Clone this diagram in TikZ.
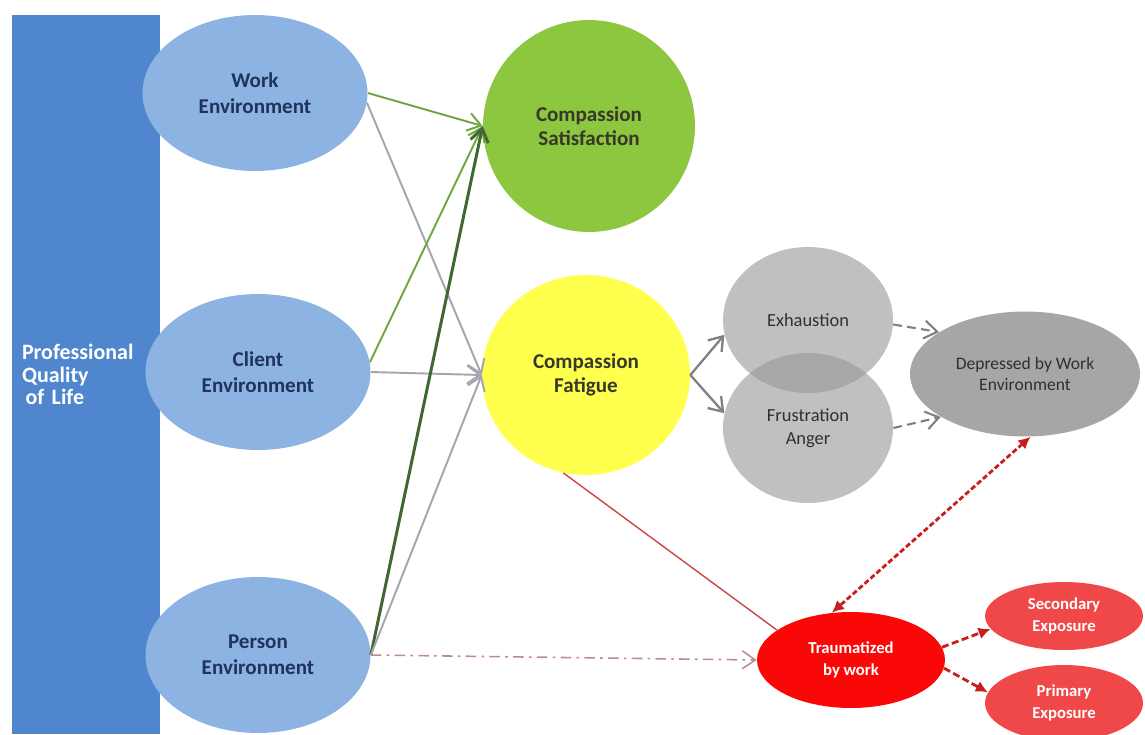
\documentclass[tikz,border=0pt]{standalone}
\usepackage{fontspec}
\setmainfont{Carlito}
\usepackage{tikz}
\usetikzlibrary{shapes.geometric,arrows.meta}

\definecolor{barBlue}{RGB}{79,134,206}
\definecolor{envBlue}{RGB}{141,179,226}
\definecolor{envText}{RGB}{30,52,92}
\definecolor{csGreen}{RGB}{141,198,63}
\definecolor{cfYellow}{RGB}{255,255,77}
\definecolor{cText}{RGB}{56,56,40}
\definecolor{fGray}{RGB}{192,192,192}
\definecolor{fGrayDark}{RGB}{168,168,168}
\definecolor{depGray}{RGB}{166,166,166}
\definecolor{gText}{RGB}{48,48,48}
\definecolor{tRed}{RGB}{250,8,8}
\definecolor{eRed}{RGB}{240,72,72}

\begin{document}
\begin{tikzpicture}[x=0.02cm,y=-0.02cm,
  envnode/.style={ellipse,fill=envBlue,text=envText,inner sep=0pt,
    minimum width=4.5cm,minimum height=3.12cm,align=center,
    font=\fontsize{12}{15}\selectfont\bfseries},
  bignode/.style={ellipse,text=cText,inner sep=0pt,align=center,
    font=\fontsize{12}{14}\selectfont\bfseries},
  graynode/.style={ellipse,fill=fGray,text=gText,inner sep=0pt,
    minimum width=3.4cm,align=center,font=\fontsize{10.5}{13}\selectfont},
  rednode/.style={ellipse,text=white,inner sep=0pt,align=center,
    font=\fontsize{9.5}{12.5}\selectfont\bfseries},
  tip/.style={-{Straight Barb[length=2.6mm,width=3.6mm]}},
  greenline/.style={tip,line width=1.1pt,draw={rgb,255:red,112;green,166;blue,64}},
  grayline/.style={tip,line width=1.1pt,draw={rgb,255:red,165;green,165;blue,175}},
  dashgray/.style={tip,line width=1.2pt,draw={rgb,255:red,128;green,128;blue,128},dash pattern=on 5pt off 3pt},
  reddash/.style={-{Latex[length=2.4mm,width=2.4mm]},line width=1.6pt,draw={rgb,255:red,200;green,30;blue,30},dash pattern=on 4pt off 2pt}]
\useasboundingbox (0,0) rectangle (1145,734);

% left bar
\node[rectangle,fill=barBlue,text=white,inner xsep=0.2cm,inner ysep=0pt,
  minimum height=14.38cm,text width=2.56cm,align=left,
  font=\fontsize{12.5}{13}\selectfont\bfseries] (qol) at (86,374.5)
  {Professional\\Quality\\\,of Life};

% environments
\node[envnode] (work) at (255,93) {Work\\Environment};
\node[envnode] (client) at (258,372) {Client\\Environment};
\node[envnode] (person) at (258,655) {Person\\Environment};

% compassion
\node[bignode,fill=csGreen,minimum width=4.24cm,minimum height=4.24cm] (cs) at (589,126) {Compassion\\Satisfaction};
\node[bignode,fill=cfYellow,minimum width=4.16cm,minimum height=4.0cm] (cf) at (586,375) {Compassion\\Fatigue};

% fatigue parts
\node[graynode,minimum height=2.92cm] (exh) at (808,320) {Exhaustion};
\node[graynode,minimum height=3.0cm] (frus) at (808,428) {Frustration\\Anger};
\begin{scope}
  \clip (exh.center) ellipse [x radius=1.7cm,y radius=1.46cm];
  \fill[fGrayDark] (frus.center) ellipse [x radius=1.7cm,y radius=1.5cm];
\end{scope}
\node[ellipse,fill=depGray,text=gText,inner sep=0pt,minimum width=4.6cm,
  minimum height=2.5cm,align=center,font=\fontsize{10}{11.5}\selectfont] (dep) at (1025,374)
  {Depressed by Work\\Environment};

% trauma
\node[rednode,fill=tRed,minimum width=3.76cm,minimum height=1.92cm] (trauma) at (851,660) {Traumatized\\by work};
\node[rednode,fill=eRed,minimum width=3.16cm,minimum height=1.36cm] (sec) at (1064,616) {Secondary\\Exposure};
\node[rednode,fill=eRed,minimum width=3.16cm,minimum height=1.52cm] (prim) at (1064,703) {Primary\\Exposure};

% connectors
\draw[greenline] (work.east) -- (cs.west);
\draw[grayline] (work.-5) -- (cf.west);
\draw[greenline] (client.5) -- (cs.west);
\draw[grayline] (client.east) -- (cf.west);
\draw[greenline,line width=1.7pt,draw={rgb,255:red,64;green,104;blue,52}] (person.east) -- (cs.west);
\draw[grayline] (person.east) -- (cf.west);
\draw[tip,line width=0.9pt,draw={rgb,255:red,190;green,140;blue,140},dash pattern=on 6pt off 3pt on 1.5pt off 3pt] (person.east) -- (trauma.west);
\draw[line width=0.8pt,draw={rgb,255:red,205;green,70;blue,70}] (cf.-103) -- (trauma.158);
\draw[tip,line width=1.3pt,draw={rgb,255:red,128;green,128;blue,128}] (cf.east) -- (exh.190);
\draw[tip,line width=1.3pt,draw={rgb,255:red,128;green,128;blue,128}] (cf.east) -- (frus.170);
\draw[dashgray] (exh.-3) -- (dep.154);
\draw[dashgray] (frus.0) -- (dep.207);
\draw[reddash,{Latex[length=2.4mm,width=2.4mm]}-{Latex[length=2.4mm,width=2.4mm]},dash pattern=on 3pt off 1.5pt] (dep.-85) -- (trauma.112);
\draw[reddash] (trauma.8) -- (sec.190);
\draw[reddash] (trauma.-5) -- (prim.172);
\end{tikzpicture}
\end{document}
